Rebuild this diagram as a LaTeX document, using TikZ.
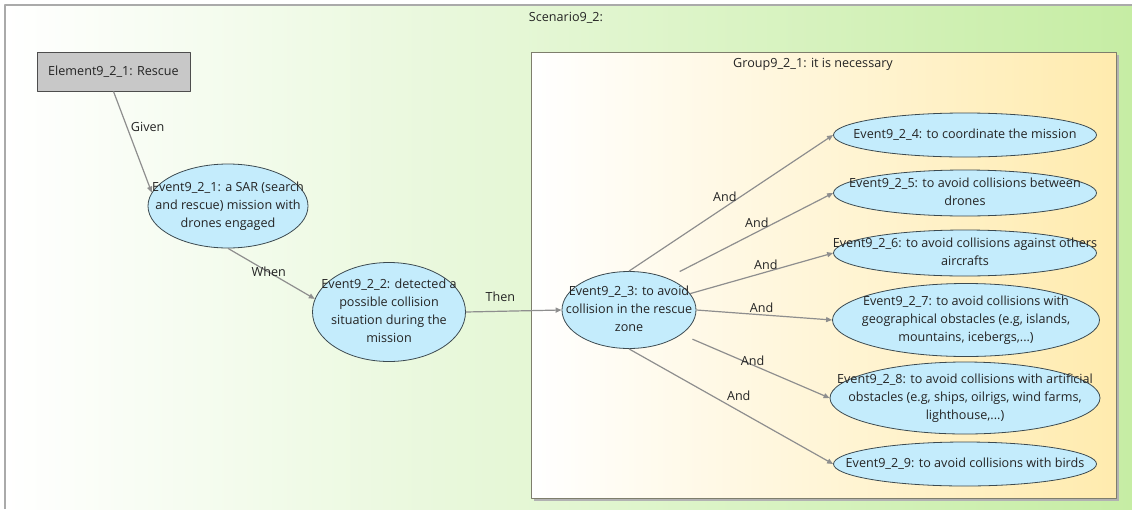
\documentclass[tikz,border=0pt]{standalone}
\usepackage{fontspec}
\setmainfont{Open Sans}
\usetikzlibrary{arrows.meta,shapes.geometric}
\definecolor{scenright}{HTML}{C6EDA4}
\definecolor{grpright}{HTML}{FFEBAE}
\definecolor{grpline}{HTML}{7E7E6C}
\definecolor{evfill}{HTML}{C4ECFC}
\definecolor{evline}{HTML}{3C4A50}
\definecolor{elfill}{HTML}{C8C8C8}
\definecolor{elline}{HTML}{4D4D4D}
\definecolor{linkcol}{HTML}{8E8E8E}
\definecolor{ink}{HTML}{242424}
\definecolor{frame}{HTML}{AAAAAA}

% text of an event: centred lines that may spill over the ellipse
\newcommand{\evtext}[1]{\smash{\makebox[0pt]{\raisebox{-2.5pt}{\begin{tabular}{@{}c@{}}#1\end{tabular}}}}}

\begin{document}
\begin{tikzpicture}[x=1pt,y=-1pt,line join=round,
  every node/.style={font=\fontsize{12.6}{18}\selectfont,text=ink},
  event/.style={ellipse,draw=evline,fill=evfill,line width=0.8pt,inner sep=0pt},
  element/.style={rectangle,draw=elline,fill=elfill,line width=0.9pt,inner sep=0pt},
  link/.style={-{Triangle[length=6pt,width=5pt]},draw=linkcol,line width=1.2pt},
  lbl/.style={inner sep=1.5pt}]
  \useasboundingbox (0,0) rectangle (1132,509);

  % ---- scenario area ----
  \shade[left color=white,right color=scenright] (5,5) rectangle (1132,509);
  \draw[frame,line width=1.2pt] (5,509) -- (5,5) -- (1132,5);
  \node (scen) at (566,18) {Scenario9\_2:};

  % ---- group box ----
  \fill[black!30] (534,55) rectangle (1119,501);
  \shade[left color=white,right color=grpright] (531,52) rectangle (1116,498);
  \draw[grpline,line width=1pt] (531,52) rectangle (1116,498);
  \node (grp) at (813,64) {Group9\_2\_1: it is necessary};

  % ---- element and chain of events ----
  \node[element,minimum width=153pt,minimum height=39pt] (elem) at (113.5,71.5) {Element9\_2\_1: Rescue};
  \node[event,minimum width=160pt,minimum height=84pt] (ev1) at (228,206)
    {\evtext{Event9\_2\_1: a SAR (search\\and rescue) mission with\\drones engaged}};
  \node[event,minimum width=153pt,minimum height=99pt] (ev2) at (389,312)
    {\evtext{Event9\_2\_2: detected a\\possible collision\\situation during the\\mission}};
  \node[event,minimum width=134pt,minimum height=77pt] (ev3) at (629,310)
    {\evtext{Event9\_2\_3: to avoid\\collision in the rescue\\zone}};

  % ---- events inside the group ----
  \node[event,minimum width=263pt,minimum height=44pt] (ev4) at (965,135)
    {\evtext{Event9\_2\_4: to coordinate the mission}};
  \node[event,minimum width=263pt,minimum height=46pt] (ev5) at (965,193)
    {\evtext{Event9\_2\_5: to avoid collisions between\\drones}};
  \node[event,minimum width=263pt,minimum height=46pt] (ev6) at (965,253)
    {\evtext{Event9\_2\_6: to avoid collisions against others\\aircrafts}};
  \node[event,minimum width=267pt,minimum height=73pt] (ev7) at (966,320)
    {\evtext{Event9\_2\_7: to avoid collisions with\\geographical obstacles (e.g, islands,\\mountains, icebergs,...)}};
  \node[event,minimum width=270pt,minimum height=72pt] (ev8) at (965,398)
    {\evtext{Event9\_2\_8: to avoid collisions with artificial\\obstacles (e.g, ships, oilrigs, wind farms,\\lighthouse,...)}};
  \node[event,minimum width=263pt,minimum height=44pt] (ev9) at (965,464)
    {\evtext{Event9\_2\_9: to avoid collisions with birds}};

  % ---- connectors ----
  \draw[link] (elem.south) -- (ev1.170) node[lbl,pos=0.35,right=2pt] {Given};
  \draw[link] (ev1.south) -- (ev2.170) node[lbl,pos=0.47] {When};
  \draw[link] (ev2.east) -- (ev3.west) node[lbl,pos=0.36,above=8pt] {Then};
  \draw[link] (ev3.north) -- (ev4.west) node[lbl,pos=0.47,above=3pt] {And};
  \draw[link,shorten <=14pt] (ev3.40) -- (ev5.west) node[lbl,pos=0.54,above=2pt] {And};
  \draw[link] (ev3.15) -- (ev6.west) node[lbl,pos=0.53,above] {And};
  \draw[link] (ev3.east) -- (ev7.west) node[lbl,pos=0.48,above] {And};
  \draw[link,shorten <=12pt] (ev3.-25) -- (ev8.west) node[lbl,pos=0.48,above=-3pt] {And};
  \draw[link] (ev3.south) -- (ev9.west) node[lbl,pos=0.47,above right=0pt] {And};
\end{tikzpicture}
\end{document}
